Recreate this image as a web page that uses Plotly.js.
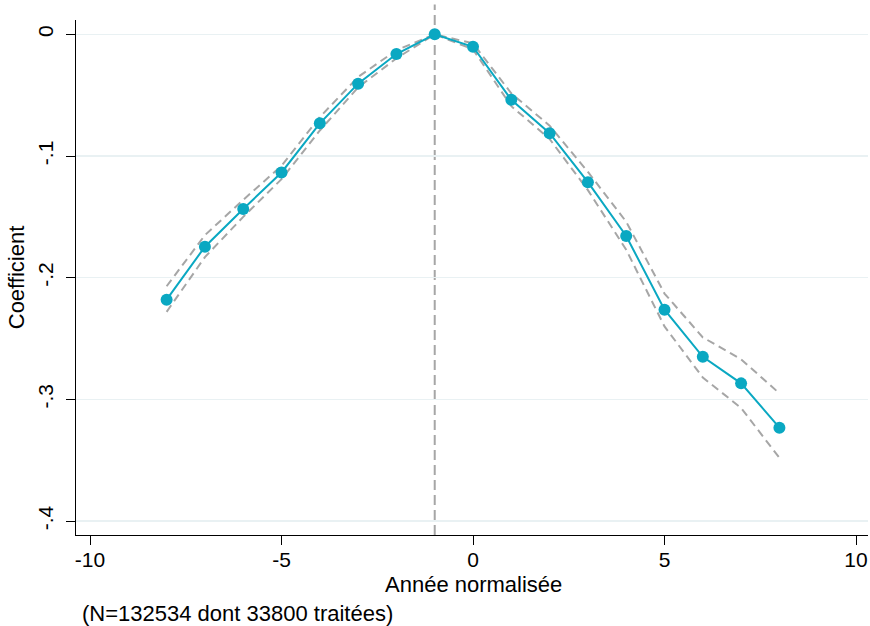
<!DOCTYPE html>
<html>
<head>
<meta charset="utf-8">
<script src="https://cdn.plot.ly/plotly-3.0.1.min.js"></script>
<style>html,body{margin:0;padding:0;background:#fff;}#chart{width:870px;height:626px;}</style>
</head>
<body>
<div id="chart"></div>
<script>
const years = [-8,-7,-6,-5,-4,-3,-2,-1,0,1,2,3,4,5,6,7,8];
const coef  = [-0.218,-0.1745,-0.1435,-0.1135,-0.0731,-0.0405,-0.0162,0,-0.0102,-0.0538,-0.0812,-0.1215,-0.1657,-0.2263,-0.265,-0.2868,-0.3232];
const upper = [-0.207,-0.165,-0.136,-0.108,-0.068,-0.035,-0.013,0,-0.0074,-0.0485,-0.075,-0.113,-0.154,-0.213,-0.249,-0.267,-0.295];
const lower = [-0.228,-0.183,-0.150,-0.119,-0.079,-0.0436,-0.0197,0,-0.0123,-0.059,-0.086,-0.128,-0.177,-0.240,-0.282,-0.307,-0.348];
const xTickVals = [-10,-5,0,5,10];
const xTickText = ['-10','-5','0','5','10'];
const yTickVals = [0,-0.1,-0.2,-0.3,-0.4];
const yTickText = ['0','-.1','-.2','-.3','-.4'];
const refYear = -1;
const xTitle = 'Année normalisée';
const yTitle = 'Coefficient';
const noteText = '(N=132534 dont 33800 traitées)';

const FONT = 'Liberation Sans, Arial, sans-serif';
const FS = 22;
const TFS = 21;
const ciStyle = {color:'#a6a6a6', width:2, dash:'8px,5px'};

const traces = [
  {x:years, y:upper, mode:'lines', line:ciStyle, hoverinfo:'skip', showlegend:false},
  {x:years, y:lower, mode:'lines', line:ciStyle, hoverinfo:'skip', showlegend:false},
  {x:years, y:coef, mode:'lines+markers', line:{color:'#0aa8c2', width:2},
   marker:{color:'#0aa8c2', size:12}, showlegend:false}
];

const layout = {
  width:870, height:626,
  margin:{l:76, r:2, t:20, b:91},
  paper_bgcolor:'#ffffff', plot_bgcolor:'#ffffff',
  font:{family:FONT, size:FS, color:'#000'},
  xaxis:{
    range:[-10.366, 10.313], tickvals:xTickVals, ticktext:xTickText, ticks:'outside', ticklen:9, tickwidth:1,
    tickcolor:'#000', showline:true, linecolor:'#000', linewidth:1, showgrid:false, zeroline:false,
    ticklabelstandoff:-3,
    tickfont:{size:TFS}
  },
  yaxis:{
    range:[-0.4114, 0.0118], tickvals:yTickVals, ticktext:yTickText, tickangle:-90,
    ticks:'outside', ticklen:9, tickwidth:1, tickcolor:'#000', showline:true, linecolor:'#000',
    linewidth:1, showgrid:true, gridcolor:'#e9f1f3', gridwidth:1.5, zeroline:false,
    ticklabelstandoff:5,
    title:{text:yTitle, font:{size:FS}, standoff:2},
    tickfont:{size:TFS}
  },
  shapes:[{type:'line', xref:'x', yref:'paper', x0:refYear, x1:refYear, y0:0, y1:1.03,
           line:{color:'#a6a6a6', width:2, dash:'10px,5px'}, layer:'below'}],
  annotations:[
    {text:xTitle, xref:'paper', yref:'paper', x:(474-76)/792, y:-0.096,
     xanchor:'center', yanchor:'middle', showarrow:false, font:{size:FS}},
    {text:noteText, xref:'paper', yref:'paper', x:0.005, y:-0.152,
     xanchor:'left', yanchor:'middle', showarrow:false, font:{size:FS}}
  ]
};

Plotly.newPlot('chart', traces, layout, {displayModeBar:false, staticPlot:true});
</script>
</body>
</html>
